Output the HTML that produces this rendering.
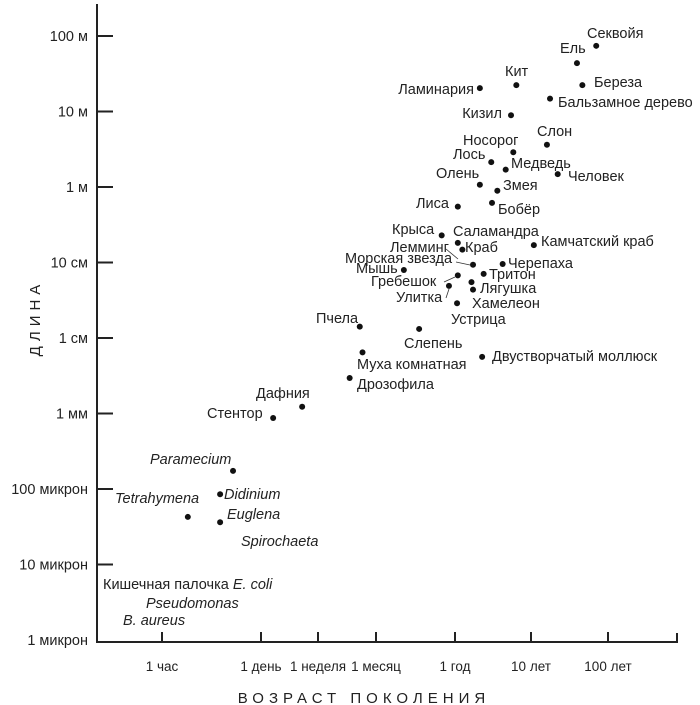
<!DOCTYPE html>
<html><head><meta charset="utf-8"><style>
html,body{margin:0;padding:0;background:#fff;}
svg{display:block;font-family:"Liberation Sans","DejaVu Sans",sans-serif;}
.lb{font-size:14.5px;fill:#222;}
.it{font-style:italic;}
.tk{font-size:14.5px;fill:#222;}
</style></head><body>
<svg id="chart" width="700" height="705" viewBox="0 0 700 705">
<g id="axes"></g>
<g id="marks"></g>
<g class="lb">
<text x="587" y="38">Секвойя</text>
<text x="560" y="53">Ель</text>
<text x="594" y="87">Береза</text>
<text x="505" y="76">Кит</text>
<text x="474" y="94" text-anchor="end">Ламинария</text>
<text x="558" y="107">Бальзамное дерево</text>
<text x="502" y="118" text-anchor="end">Кизил</text>
<text x="537" y="136">Слон</text>
<text x="463" y="145">Носорог</text>
<text x="453" y="159">Лось</text>
<text x="511" y="168">Медведь</text>
<text x="568" y="181">Человек</text>
<text x="436" y="178">Олень</text>
<text x="503" y="190">Змея</text>
<text x="416" y="208">Лиса</text>
<text x="498" y="214">Бобёр</text>
<text x="392" y="234">Крыса</text>
<text x="453" y="236">Саламандра</text>
<text x="390" y="252">Лемминг</text>
<text x="465" y="252">Краб</text>
<text x="541" y="246">Камчатский краб</text>
<text x="345" y="263">Морская звезда</text>
<text x="508" y="268">Черепаха</text>
<text x="356" y="273">Мышь</text>
<text x="489" y="279">Тритон</text>
<text x="371" y="286">Гребешок</text>
<text x="480" y="293">Лягушка</text>
<text x="396" y="302">Улитка</text>
<text x="472" y="308">Хамелеон</text>
<text x="451" y="324">Устрица</text>
<text x="316" y="323">Пчела</text>
<text x="404" y="348">Слепень</text>
<text x="492" y="361">Двустворчатый моллюск</text>
<text x="357" y="369">Муха комнатная</text>
<text x="357" y="389">Дрозофила</text>
<text x="256" y="398">Дафния</text>
<text x="207" y="418">Стентор</text>
<text x="150" y="464" class="it">Paramecium</text>
<text x="224" y="499" class="it">Didinium</text>
<text x="115" y="503" class="it">Tetrahymena</text>
<text x="227" y="519" class="it">Euglena</text>
<text x="241" y="546" class="it">Spirochaeta</text>
<text x="103" y="589">Кишечная палочка <tspan class="it">E. coli</tspan></text>
<text x="146" y="608" class="it">Pseudomonas</text>
<text x="123" y="625" class="it">B. aureus</text>
</g>
<g stroke="#333" stroke-width="0.8">
<line x1="446" y1="249" x2="458" y2="259"/>
<line x1="456" y1="262" x2="470" y2="265"/>
<line x1="444" y1="282" x2="455" y2="277"/>
<line x1="446" y1="298" x2="449" y2="289"/>
</g>
<text x="364" y="703" text-anchor="middle" font-size="15" letter-spacing="5" fill="#222">ВОЗРАСТ ПОКОЛЕНИЯ</text>
<text transform="translate(40,318) rotate(-90)" text-anchor="middle" font-size="15" letter-spacing="5" fill="#222">ДЛИНА</text>
</svg>
<script>
// x: log10(hours), y: log10(meters)
const xTickVals = [0, 1.380, 2.225, 2.857, 3.943, 4.943, 5.943];
const xTickLabels = ["1 час","1 день","1 неделя","1 месяц","1 год","10 лет","100 лет"];
const yTickVals = [2,1,0,-1,-2,-3,-4,-5,-6];
const yTickLabels = ["100 м","10 м","1 м","10 см","1 см","1 мм","100 микрон","10 микрон","1 микрон"];
const names = ["Секвойя","Ель","Береза","Кит","Ламинария","Бальзамное дерево","Кизил","Слон","Носорог","Лось","Медведь","Человек","Олень","Змея","Лиса","Бобёр","Крыса","Саламандра","Краб","Камчатский краб","Морская звезда","Черепаха","Мышь","Тритон","Гребешок","Улитка","Лягушка","Хамелеон","Устрица","Пчела","Слепень","Двустворчатый моллюск","Муха комнатная","Дрозофила","Дафния","Стентор","Paramecium","Didinium","Tetrahymena","Euglena"];
const genTime = [5.79,5.54,5.61,4.75,4.27,5.19,4.68,5.15,4.71,4.42,4.61,5.29,4.27,4.50,3.98,4.43,3.76,3.98,4.04,4.98,4.18,4.57,3.24,4.32,3.98,3.86,4.16,4.18,3.97,2.68,3.45,4.30,2.71,2.57,1.99,1.56,0.99,0.81,0.36,0.81];
const lengthVal = [1.87,1.64,1.35,1.35,1.31,1.17,0.95,0.56,0.46,0.33,0.23,0.17,0.03,-0.05,-0.26,-0.21,-0.64,-0.74,-0.83,-0.77,-1.03,-1.02,-1.10,-1.15,-1.17,-1.31,-1.26,-1.36,-1.54,-1.85,-1.88,-2.25,-2.19,-2.53,-2.91,-3.06,-3.76,-4.07,-4.37,-4.44];

const NS = "http://www.w3.org/2000/svg";
const xTickPx = [162,261,318,376,455,531,608];
function xScale(v){
  const n = xTickVals.length;
  if (v <= xTickVals[0]) return xTickPx[0] + (v - xTickVals[0]) * 71.7;
  for (let i = 0; i < n - 1; i++) {
    if (v <= xTickVals[i+1]) {
      const t = (v - xTickVals[i]) / (xTickVals[i+1] - xTickVals[i]);
      return xTickPx[i] + t * (xTickPx[i+1] - xTickPx[i]);
    }
  }
  return xTickPx[n-1] + (v - xTickVals[n-1]) * 77;
}
function yScale(v){ return 187 - v * 75.5; }
function mk(tag, attrs, parent){
  const e = document.createElementNS(NS, tag);
  for (const k in attrs) e.setAttribute(k, attrs[k]);
  parent.appendChild(e); return e;
}
const axes = document.getElementById('axes');
const yAxis = mk('line', {x1:97, y1:4, x2:97, y2:643, stroke:'#222', 'stroke-width':2}, axes);


const xAxis = mk('line', {x1:96, y1:642, x2:678, y2:642, stroke:'#222', 'stroke-width':2}, axes);


const endTick = mk('line', {x1:677, y1:633, x2:677, y2:642, stroke:'#222', 'stroke-width':2}, axes);


yTickVals.forEach((v, i) => {
  const y = yScale(v);
  if (i < yTickVals.length - 1) {
    const t = mk('line', {x1:97, y1:y, x2:113, y2:y, stroke:'#222', 'stroke-width':2}, axes);
    
    
  }
  const tx = mk('text', {x:88, y:y+5, 'text-anchor':'end', class:'tk'}, axes);
  tx.textContent = yTickLabels[i];
  
  
});
xTickVals.forEach((v, i) => {
  const x = xScale(v);
  const t = mk('line', {x1:x, y1:632, x2:x, y2:642, stroke:'#222', 'stroke-width':2}, axes);
  
  
  const tx = mk('text', {x:x, y:671, 'text-anchor':'middle', class:'tk'}, axes);
  tx.style.fontSize = '13.5px';
  tx.textContent = xTickLabels[i];
  
  
});
const marks = document.getElementById('marks');
names.forEach((n, i) => {
  const c = mk('circle', {cx:xScale(genTime[i]), cy:yScale(lengthVal[i]), r:3, fill:'#111'}, marks);
  
  
  const tt = mk('title', {}, c); tt.textContent = n;
});
</script>
</body></html>
